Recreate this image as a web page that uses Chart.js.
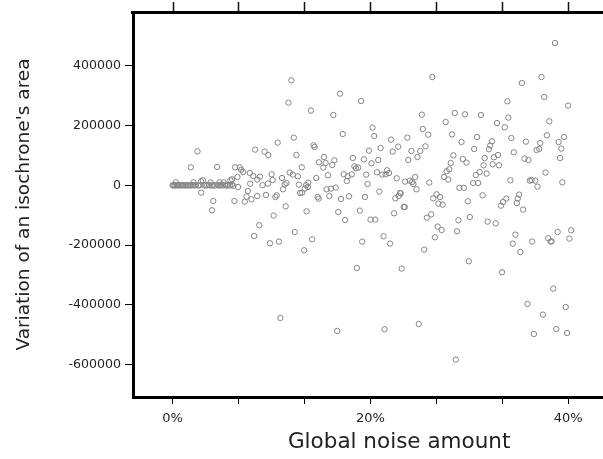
<!DOCTYPE html>
<html>
<head>
<meta charset="utf-8">
<script src="https://cdn.jsdelivr.net/npm/chart.js@4.4.1/dist/chart.umd.min.js"></script>
<style>
  html, body { margin: 0; background: #fff; overflow: hidden; width: 603px; height: 459px; }
  canvas { display: block; }
</style>
</head>
<body>
<!-- the plot box runs past the right edge of the picture, so the canvas is wider than the window -->
<canvas id="noiseChart" width="669" height="459"></canvas>
<script>
// tick positions (x in %, y in m²)
const xTickValues = [0, 6.667, 13.333, 20, 26.667, 33.333, 40];
const yTickValues = [-600000, -400000, -200000, 0, 200000, 400000];

// points near zero noise (0 - 6.5 %)
const lowNoise = [0, 0.1, 0.2, 0.3, 0.33, 0.45, 0.55, 0.7, 0.8, 0.95, 1.05, 1.2, 1.35, 1.5, 1.6, 1.75, 1.85, 1.9,
  2.05, 2.12, 2.2, 2.35, 2.52, 2.6, 2.75, 2.87, 2.9, 3.07, 3.2, 3.35, 3.5, 3.7, 3.85, 3.95, 3.99, 4.1, 4.12, 4.3,
  4.5, 4.55, 4.7, 4.76, 4.9, 5.05, 5.17, 5.3, 5.45, 5.6, 5.8, 5.85, 6.0, 6.02, 6.15, 6.26, 6.33];
const lowArea = [0, -500, 300, -200, 10000, 500, 0, -400, 200, -300, 600, 0, -600, 400, -200, 300, 60200, -500,
  700, 10000, -300, 400, 113700, -800, 1000, 13400, -24400, 16700, -600, 900, -400, 600, 10000, -1000, -83600, 500, -52500, -700,
  61200, 1200, -900, 10000, 800, -500, 10000, 1500, -1200, 900, -800, 16700, 2000, 20100, -1500, -52500, 60200];

// 6.5 - 15 %
const midNoise = [6.80, 6.94, 7.14, 7.81, 8.16, 6.56, 8.83, 8.57, 10.02, 10.12, 11.07, 11.85, 12.16, 12.67, 13.07, 14.53,
  13.71, 13.51, 12.77, 7.85, 9.10, 9.64, 11.52, 11.34, 6.63, 7.61, 11.17, 12.90, 13.10, 7.30, 7.48, 7.99, 8.57, 9.44,
  10.40, 10.53, 11.44, 10.22, 8.77, 8.26, 9.85, 10.76, 12.36, 13.55, 14.12, 13.31, 10.91, 13.38, 13.68, 14.67, 14.77,
  12.02, 11.72, 13.99, 12.26, 10.63, 14.26, 14.36, 8.36, 9.31, 9.68, 12.53, 14.80];
const midArea = [60200, 51800, 44500, 41100, 31100, 27800, 29100, 19100, 36800, 17700, 24400, 42500, 35800, 30100, 60200, 24400,
  9000, 500, 2300, 5700, 300, 5700, 7700, 3300, -5700, -19100, -13400, -25700, -24400, -54500, -37800, -46800, -35800, -32400,
  -39100, -33400, -70200, -101300, -133800, -169500, -194000, -188300, -156200, -86900, -180600, -217400, -443700, -11000, -5700, -39100, -44500,
  351100, 276500, 249800, 159500, 142800, 133800, 128100, 119400, 112700, 101300, 101300, 76900];

// 15 - 30 %
const highNoise = [26.27, 16.94, 19.07, 16.26, 25.21, 28.54, 29.58, 27.62, 20.22, 20.40, 17.21, 25.31, 25.86, 28.26, 23.75,
  22.10, 29.22, 22.81, 22.26, 21.04, 19.86, 25.58, 25.05, 24.16, 24.77, 23.83, 28.40, 29.35, 29.73, 15.31, 16.36, 16.15,
  15.48, 15.24, 18.23, 19.35, 20.12, 20.80, 18.39, 18.77, 18.54, 28.13, 27.99, 27.72, 27.45, 27.89, 15.72, 17.31, 17.72,
  18.13, 17.62, 19.58, 20.67, 21.21, 21.69, 21.89, 21.55, 22.67, 23.52, 24.0, 24.23, 24.36, 24.54, 24.67, 25.96, 19.72,
  20.91, 15.58, 16.02, 16.50, 23.01, 29.01, 29.45, 26.70, 15.85, 17.04, 17.85, 19.45, 23.07, 22.87, 22.53, 16.76, 17.45,
  18.94, 20.02, 20.50, 22.40, 23.38, 23.48, 26.37, 27.04, 26.88, 27.31, 26.16, 25.72, 26.81, 27.21, 26.53, 25.45, 21.34,
  21.99, 19.18, 18.64, 23.17, 28.91, 28.77, 29.86, 30.06, 29.96, 16.66, 21.44, 24.90, 28.64];
const highArea = [362200, 306600, 281900, 235100, 236400, 241800, 237400, 211700, 192900, 164900, 171500, 188300, 169500, 170500, 159500,
  152800, 144800, 129400, 112700, 124700, 116000, 130400, 114700, 114700, 94600, 84600, 100300, 87900, 75900, 94600, 83600, 67900,
  74600, 59200, 91300, 86900, 73600, 84600, 63500, 59200, 56800, 74600, 53500, 46800, 27800, 19100, 33400, 36800, 30100,
  36800, 14400, 35800, 43500, 35800, 50200, 41100, 36800, 23400, 12400, 15700, 11000, 4300, 27800, -13400, 9000, 4300,
  -21100, -13400, -11000, -7700, -25700, -8400, -8400, -30100, -35800, -45800, -36800, -39100, -26800, -35800, -43500, -89300, -116000,
  -84600, -114700, -114700, -93600, -72600, -72600, -43500, -39100, -61200, -64500, -97000, -108000, -138100, -149500, -173900, -215000, -170500,
  -195000, -188300, -276500, -278600, -117000, -153800, -53500, -106000, -254100, -487200, -481500, -463800, -582900];

// 30 - 41 %
const topNoise = [38.68, 37.31, 35.32, 33.86, 37.59, 40.0, 31.18, 33.96, 32.81, 33.59, 38.10, 30.80, 34.26, 32.30, 32.12,
  31.99, 35.73, 37.86, 37.18, 37.08, 36.81, 39.04, 39.59, 39.32, 30.50, 34.51, 31.56, 32.50, 32.91, 33.01, 32.37, 31.45,
  35.59, 35.99, 39.19, 31.05, 30.67, 31.76, 37.72, 30.40, 30.90, 34.16, 36.13, 36.30, 36.67, 36.91, 39.42, 31.35, 35.05,
  33.21, 33.42, 33.75, 34.81, 34.91, 35.45, 31.86, 32.68, 34.67, 34.40, 35.18, 36.37, 38.0, 38.33, 38.23, 38.94, 40.31,
  40.13, 33.32, 38.50, 35.89, 37.46, 39.76, 36.54, 38.81, 39.90];
const topArea = [475900, 362200, 342100, 280900, 295300, 266500, 235100, 226400, 208300, 194000, 214000, 161500, 158200, 147100, 132800,
  120400, 146100, 167200, 141500, 121400, 118000, 144800, 161500, 122700, 121400, 110400, 91300, 93600, 101300, 66900, 70200, 66900,
  89300, 84600, 91300, 44500, 34400, 39100, 42500, 7700, 7700, 16700, 15700, 17700, 15700, -4300, 10000, -33400, -31100,
  -67900, -55800, -44500, -59200, -44500, -81300, -121400, -127100, -164900, -195000, -223000, -188300, -177200, -187300, -188300, -156200, -150500,
  -178200, -290900, -345400, -396900, -432400, -407000, -497300, -480500, -493900];

const noise = lowNoise.concat(midNoise, highNoise, topNoise);
const area = lowArea.concat(midArea, highArea, topArea);
const points = noise.map((x, i) => ({ x: x, y: area[i] }));

const FONT = 'DejaVu Sans';

// top frame line + outward tick marks, placed with the x scale
const topFrame = {
  id: 'topFrame',
  afterDraw(chart) {
    const { ctx, chartArea } = chart;
    const xs = chart.scales.x;
    const y = chartArea.top;
    ctx.save();
    ctx.strokeStyle = '#111';
    ctx.lineWidth = 1.5;
    ctx.beginPath();
    xTickValues.forEach(v => {
      const px = Math.round(xs.getPixelForValue(v)) + 0.5;
      ctx.moveTo(px, y - 10);
      ctx.lineTo(px, y + 1);
    });
    ctx.stroke();
    ctx.fillStyle = '#000';
    ctx.fillRect(chartArea.left - 2, y - 1, chartArea.right - chartArea.left + 12, 3);
    ctx.restore();
  }
};

new Chart(document.getElementById('noiseChart'), {
  type: 'scatter',
  data: {
    datasets: [{
      data: points,
      pointRadius: 2.7,
      pointBorderWidth: 1,
      borderColor: '#858585',
      backgroundColor: 'rgba(0,0,0,0)',
      pointHoverRadius: 2.7
    }]
  },
  options: {
    responsive: false,
    animation: false,
    layout: { padding: { left: 0, top: 12, bottom: 0, right: 0 } },
    plugins: { legend: { display: false }, tooltip: { enabled: false } },
    scales: {
      x: {
        type: 'linear',
        position: 'bottom',
        min: -4,
        max: 49.83,
        afterBuildTicks: s => { s.ticks = xTickValues.map(v => ({ value: v })); },
        afterFit: s => { s.height = 62; },
        ticks: {
          color: '#222',
          font: { family: FONT, size: 13 },
          padding: 7,
          maxRotation: 0,
          autoSkip: false,
          callback: v => (Math.abs(v % 20) < 0.01 ? v + '%' : '')
        },
        grid: { drawOnChartArea: false, drawTicks: true, tickLength: 7, color: '#000', lineWidth: 1 },
        border: { display: true, width: 3, color: '#000' },
        title: {
          display: true,
          text: 'Global noise amount',
          color: '#222',
          font: { family: FONT, size: 21.5 },
          padding: { top: 0, bottom: 4 }
        }
      },
      y: {
        type: 'linear',
        position: 'left',
        min: -708000,
        max: 579600,
        afterBuildTicks: s => { s.ticks = yTickValues.map(v => ({ value: v })); },
        afterFit: s => { s.width = 133; },
        ticks: {
          color: '#222',
          font: { family: FONT, size: 12.6 },
          padding: 4,
          callback: v => String(v)
        },
        grid: { drawOnChartArea: false, drawTicks: true, tickLength: 8, color: '#000', lineWidth: 1 },
        border: { display: true, width: 3, color: '#000' },
        title: {
          display: true,
          text: "Variation of an isochrone's area",
          color: '#222',
          font: { family: FONT, size: 18.5 },
          padding: { top: 13, bottom: 0 }
        }
      }
    }
  },
  plugins: [topFrame]
});
</script>
</body>
</html>
